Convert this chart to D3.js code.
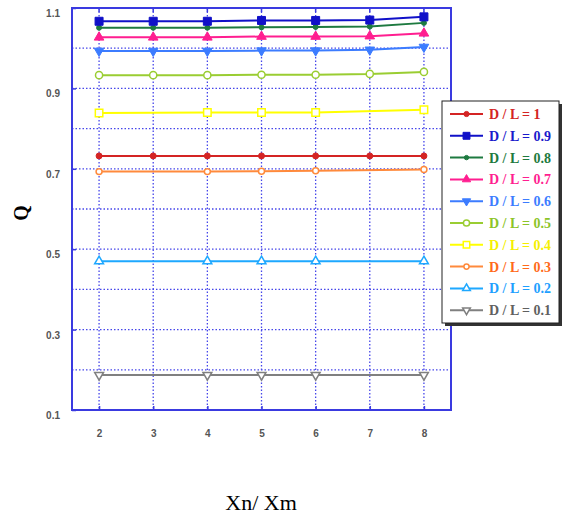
<!DOCTYPE html>
<html>
<head>
<meta charset="utf-8">
<script src="https://cdn.jsdelivr.net/npm/d3@7"></script>
<style>
  body { margin: 0; background: #fff; }
</style>
</head>
<body>
<div id="chart"></div>
<script>
// data
const labels = ["D / L = 1", "D / L = 0.9", "D / L = 0.8", "D / L = 0.7", "D / L = 0.6",
                "D / L = 0.5", "D / L = 0.4", "D / L = 0.3", "D / L = 0.2", "D / L = 0.1"];
const xsAll = [2, 3, 4, 5, 6, 7, 8];
const xsPart = [2, 4, 5, 6, 8];
const xTicks = [2, 3, 4, 5, 6, 7, 8];
const yTickLabels = [0.1, 0.3, 0.5, 0.7, 0.9, 1.1];

const q10 = [0.732, 0.732, 0.732, 0.732, 0.732, 0.732, 0.732];
const q09 = [1.067, 1.067, 1.067, 1.069, 1.069, 1.070, 1.078];
const q08 = [1.051, 1.051, 1.051, 1.052, 1.053, 1.054, 1.063];
const q07 = [1.027, 1.027, 1.027, 1.029, 1.029, 1.030, 1.037];
const q06 = [0.993, 0.993, 0.993, 0.994, 0.994, 0.996, 1.003];
const q05 = [0.933, 0.933, 0.933, 0.934, 0.934, 0.936, 0.941];
const q04 = [0.839, 0.840, 0.840, 0.840, 0.847];
const q03 = [0.693, 0.693, 0.694, 0.695, 0.698];
const q02 = [0.470, 0.470, 0.470, 0.470, 0.470];
const q01 = [0.187, 0.187, 0.187, 0.187, 0.187];

const series = [
  {name: labels[0], xs: xsAll, ys: q10, color: "#d42424", text: "#d42424", shape: d3.symbolCircle, size: 28, fill: true},
  {name: labels[1], xs: xsAll, ys: q09, color: "#1010c8", text: "#1a1acc", shape: d3.symbolSquare, size: 64, fill: true},
  {name: labels[2], xs: xsAll, ys: q08, color: "#1e7a40", text: "#1e7a40", shape: d3.symbolCircle, size: 20, fill: true},
  {name: labels[3], xs: xsAll, ys: q07, color: "#ff1e90", text: "#ff1e90", shape: d3.symbolTriangle, size: 40, fill: true},
  {name: labels[4], xs: xsAll, ys: q06, color: "#3c7cff", text: "#3c7cff", shape: d3.symbolTriangle, size: 40, fill: true, flip: true},
  {name: labels[5], xs: xsAll, ys: q05, color: "#9acd32", text: "#8cc428", shape: d3.symbolCircle, size: 40, fill: false},
  {name: labels[6], xs: xsPart, ys: q04, color: "#ffff00", text: "#f5f000", shape: d3.symbolSquare, size: 56, fill: false},
  {name: labels[7], xs: xsPart, ys: q03, color: "#ff8a3c", text: "#ff6a1a", shape: d3.symbolCircle, size: 28, fill: false},
  {name: labels[8], xs: xsPart, ys: q02, color: "#1ea8ff", text: "#1ea0ff", shape: d3.symbolTriangle, size: 34, fill: false},
  {name: labels[9], xs: xsPart, ys: q01, color: "#808080", text: "#606060", shape: d3.symbolTriangle, size: 34, fill: false, flip: true}
];

const width = 564;
const height = 519;
const margin = {top: 8, right: 113, bottom: 109, left: 72};

const svg = d3.select("#chart")
  .append("svg")
  .attr("width", width)
  .attr("height", height);

const x = d3.scaleLinear()
  .domain([1.5, 8.5])
  .range([margin.left, width - margin.right]);

const y = d3.scaleLinear()
  .domain([0.1, 1.1])
  .range([height - margin.bottom, margin.top]);

const gridColor = "#4646ea";

// grid
svg.append("g")
  .selectAll("line")
  .data(d3.range(0.2, 1.05, 0.1))
  .join("line")
  .attr("x1", margin.left)
  .attr("x2", width - margin.right)
  .attr("y1", d => y(d))
  .attr("y2", d => y(d))
  .attr("stroke", gridColor)
  .attr("stroke-width", 1.3)
  .attr("stroke-dasharray", "1.5,2");

svg.append("g")
  .selectAll("line")
  .data(xTicks)
  .join("line")
  .attr("x1", d => x(d))
  .attr("x2", d => x(d))
  .attr("y1", margin.top)
  .attr("y2", height - margin.bottom)
  .attr("stroke", gridColor)
  .attr("stroke-width", 1.3)
  .attr("stroke-dasharray", "1.5,2");

// axes
const xAxis = svg.append("g")
  .attr("transform", `translate(0,${height - margin.bottom})`)
  .call(d3.axisBottom(x).tickValues(xTicks).tickFormat(d3.format("d")).tickSize(-4).tickPadding(20));

const yAxis = svg.append("g")
  .attr("transform", `translate(${margin.left},0)`)
  .call(d3.axisLeft(y).tickValues(yTickLabels).tickFormat(d3.format(".1f")).tickSize(-4).tickPadding(12));

[xAxis, yAxis].forEach(g => {
  g.select(".domain").remove();
  g.selectAll("line").attr("stroke", "#3a3ae0").attr("stroke-width", 1.5);
  g.selectAll("text")
    .attr("fill", "#555")
    .style("font-family", "Liberation Sans, Arial, sans-serif")
    .style("font-weight", "bold")
    .style("font-size", "10px");
});
yAxis.selectAll("text").attr("dy", "0.85em");

// top ticks
svg.append("g")
  .selectAll("line")
  .data(xTicks)
  .join("line")
  .attr("x1", d => x(d))
  .attr("x2", d => x(d))
  .attr("y1", margin.top)
  .attr("y2", margin.top + 4)
  .attr("stroke", "#3a3ae0")
  .attr("stroke-width", 1.5);

// frame
svg.append("rect")
  .attr("x", margin.left)
  .attr("y", margin.top)
  .attr("width", width - margin.left - margin.right)
  .attr("height", height - margin.top - margin.bottom)
  .attr("fill", "none")
  .attr("stroke", "#3a3ae0")
  .attr("stroke-width", 2);

// lines + markers
const line = d3.line()
  .x(d => x(d[0]))
  .y(d => y(d[1]));

function marker(sel, s) {
  sel.attr("d", d3.symbol().type(s.shape).size(s.size))
    .attr("fill", s.fill ? s.color : "#fff")
    .attr("stroke", s.color)
    .attr("stroke-width", s.fill ? 1 : 1.5);
}

series.slice().reverse().forEach(s => {
  const pts = s.xs.map((v, i) => [v, s.ys[i]]);
  svg.append("path")
    .datum(pts)
    .attr("fill", "none")
    .attr("stroke", s.color)
    .attr("stroke-width", 2)
    .attr("d", line);
  svg.append("g")
    .selectAll("path")
    .data(pts)
    .join("path")
    .attr("transform", d => `translate(${x(d[0])},${y(d[1])})${s.flip ? " rotate(180)" : ""}`)
    .call(marker, s);
});

// legend
const lg = svg.append("g").attr("transform", "translate(442,101)");
lg.append("rect")
  .attr("x", 3).attr("y", 3)
  .attr("width", 117).attr("height", 222)
  .attr("fill", "#333");
lg.append("rect")
  .attr("width", 117).attr("height", 222)
  .attr("fill", "#fff")
  .attr("stroke", "#222")
  .attr("stroke-width", 1);

const rows = lg.selectAll("g.row")
  .data(series)
  .join("g")
  .attr("class", "row")
  .attr("transform", (d, i) => `translate(0,${13 + i * 21.8})`);

rows.append("line")
  .attr("x1", 8).attr("x2", 41)
  .attr("stroke", d => d.color)
  .attr("stroke-width", 2);

rows.each(function(s) {
  d3.select(this).append("path")
    .attr("transform", `translate(24.5,0)${s.flip ? " rotate(180)" : ""}`)
    .call(marker, {...s, size: s.size * 0.75});
});

rows.append("text")
  .attr("x", 47)
  .attr("dy", "0.35em")
  .attr("fill", d => d.text)
  .style("font-family", "Liberation Serif, Times New Roman, serif")
  .style("font-weight", "bold")
  .style("font-size", "14px")
  .text(d => d.name);

// axis titles
svg.append("text")
  .attr("x", 261)
  .attr("y", 510)
  .attr("text-anchor", "middle")
  .style("font-family", "Liberation Serif, Times New Roman, serif")
  .style("font-size", "22px")
  .text("Xn/ Xm");

svg.append("text")
  .attr("transform", "translate(28,213) rotate(-90)")
  .attr("text-anchor", "middle")
  .style("font-family", "Liberation Serif, Times New Roman, serif")
  .style("font-weight", "bold")
  .style("font-size", "20px")
  .text("Q");
</script>
</body>
</html>
